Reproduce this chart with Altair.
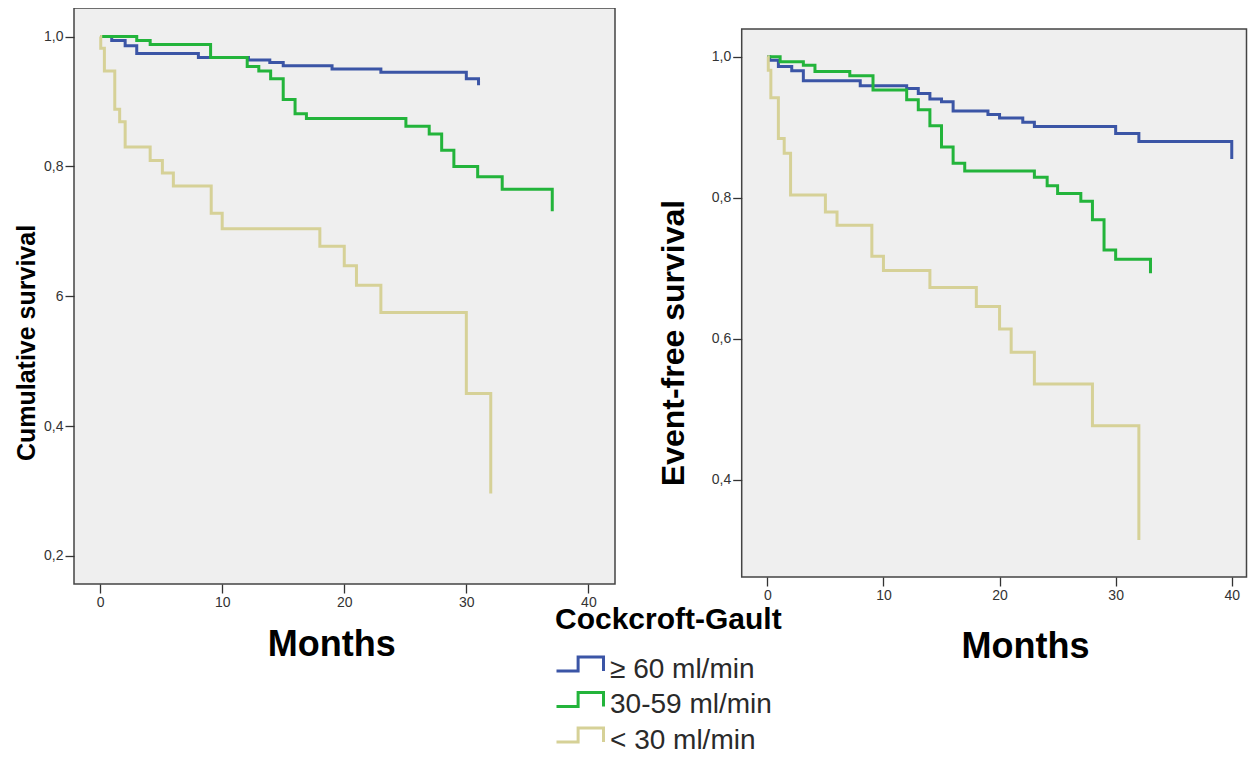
import altair as alt
import pandas as pd

FONT = "Liberation Sans"

groups = ["≥ 60 ml/min", "30-59 ml/min", "< 30 ml/min"]
colors = ["#3b55a6", "#23b43b", "#d6d197"]

# ---- Left panel: Cumulative survival (months, survival) ----
os_hi_t = [0, 0.95, 2.05, 3.0, 8.05, 12.15, 13.9, 15.0, 19.0, 23.0, 30.0, 31.0]
os_hi_s = [1.0, 0.994, 0.986, 0.974, 0.968, 0.964, 0.960, 0.955, 0.950, 0.945, 0.935, 0.925]

os_mid_t = [0, 3.0, 4.1, 9.05, 12.05, 13.0, 13.97, 15.0, 15.97, 16.9, 25.05, 26.96, 27.98, 28.98, 30.93, 32.94, 37.04]
os_mid_s = [1.0, 0.994, 0.988, 0.968, 0.954, 0.947, 0.935, 0.903, 0.881, 0.874, 0.862, 0.850, 0.825, 0.800, 0.784, 0.765, 0.731]

os_lo_t = [0, 0.05, 0.35, 1.2, 1.6, 2.05, 4.1, 5.1, 6.0, 9.1, 10.0, 18.0, 20.0, 21.0, 23.0, 30.0, 32.0]
os_lo_s = [1.0, 0.982, 0.947, 0.888, 0.869, 0.830, 0.809, 0.790, 0.770, 0.728, 0.704, 0.677, 0.647, 0.617, 0.575, 0.450, 0.296]

# ---- Right panel: Event-free survival ----
ef_hi_t = [0, 0.2, 0.95, 2.1, 3.1, 8.0, 12.0, 13.0, 14.0, 15.0, 16.0, 19.0, 20.0, 22.0, 23.0, 30.0, 32.0, 40.0]
ef_hi_s = [1.0, 0.995, 0.986, 0.980, 0.966, 0.959, 0.955, 0.948, 0.940, 0.936, 0.923, 0.918, 0.913, 0.907, 0.901, 0.891, 0.880, 0.855]

ef_mid_t = [0, 1.1, 3.1, 4.1, 7.1, 9.1, 12.0, 13.0, 14.0, 15.0, 16.0, 17.0, 23.0, 24.1, 25.0, 27.0, 28.0, 29.0, 30.0, 33.0]
ef_mid_s = [1.0, 0.993, 0.988, 0.979, 0.973, 0.953, 0.939, 0.925, 0.902, 0.872, 0.849, 0.838, 0.829, 0.817, 0.806, 0.795, 0.769, 0.726, 0.713, 0.693]

ef_lo_t = [0, 0.08, 0.3, 0.95, 1.45, 2.0, 5.0, 6.0, 9.0, 10.0, 14.0, 18.0, 20.0, 21.0, 23.0, 28.0, 32.0]
ef_lo_s = [1.0, 0.981, 0.942, 0.884, 0.863, 0.804, 0.780, 0.761, 0.717, 0.697, 0.673, 0.646, 0.614, 0.581, 0.536, 0.477, 0.315]

# axis extents (data units) of each framed panel
left_x_domain = [-2.14, 42.18]
left_y_domain = [0.1566, 1.0441]
right_x_domain = [-2.21, 41.27]
right_y_domain = [0.2625, 1.0393]

x_ticks = [0, 10, 20, 30, 40]
left_y_ticks = [0.2, 0.4, 0.6, 0.8, 1.0]
right_y_ticks = [0.4, 0.6, 0.8, 1.0]


def curves(series):
    rows = []
    for g, (ts, ss) in zip(groups, series):
        for i, (t, s) in enumerate(zip(ts, ss)):
            rows.append({"month": t, "surv": s, "group": g, "idx": i})
    return pd.DataFrame(rows)


left_df = curves([(os_hi_t, os_hi_s), (os_mid_t, os_mid_s), (os_lo_t, os_lo_s)])
right_df = curves([(ef_hi_t, ef_hi_s), (ef_mid_t, ef_mid_s), (ef_lo_t, ef_lo_s)])

left_frame = pd.DataFrame([{"x0": left_x_domain[0], "x1": left_x_domain[1],
                            "y0": left_y_domain[0], "y1": left_y_domain[1]}])
right_frame = pd.DataFrame([{"x0": right_x_domain[0], "x1": right_x_domain[1],
                             "y0": right_y_domain[0], "y1": right_y_domain[1]}])

legend = alt.Legend(
    orient="none", legendX=481, legendY=597, padding=0,
    title="Cockcroft-Gault", titleFont=FONT, titleFontSize=30, titleFontWeight="bold",
    titleColor="black", titlePadding=19, titleLimit=1000,
    labelFont=FONT, labelFontSize=28, labelColor="#2a2a2a", labelLimit=1000,
    labelOffset=14.5, rowPadding=1.5, symbolOffset=9.5,
    symbolType="M-1.679,0.1H-0.135V-0.9H1.679V0.1",
    symbolSize=784, symbolStrokeWidth=3, symbolFillColor="transparent",
)
color = alt.Color("group:N", scale=alt.Scale(domain=groups, range=colors), legend=legend)

lab_expr = "abs(datum.value - 0.6) < 0.001 && {flag} ? '6' : replace(format(datum.value, '.1f'), '.', ',')"


def x_axis(offset, tx, ty):
    return alt.Axis(values=x_ticks, orient="bottom", offset=offset, domain=False, grid=False,
                    tickSize=9, tickColor="#333333", tickWidth=1.3, labelPadding=2,
                    labelFont=FONT, labelFontSize=14, labelColor="#333333",
                    title="Months", titleFont=FONT, titleFontSize=36, titleFontWeight="bold",
                    titleColor="black", titleX=tx, titleY=ty, titleAlign="center",
                    titleBaseline="alphabetic", zindex=1)


def y_axis(vals, offset, title, tsize, tx, ty, flag):
    return alt.Axis(values=vals, orient="left", offset=offset, domain=False, grid=False,
                    tickSize=9, tickColor="#333333", tickWidth=1.3, labelPadding=2,
                    labelFont=FONT, labelFontSize=14, labelColor="#333333",
                    labelExpr=lab_expr.format(flag=flag),
                    title=title, titleFont=FONT, titleFontSize=tsize, titleFontWeight="bold",
                    titleColor="black", titleAngle=270, titleX=tx, titleY=ty,
                    titleAlign="center", titleBaseline="middle", zindex=1)


def panel(df, frame, xd, yd, xr, yr, xax, yax):
    sx = alt.Scale(domain=xd, range=xr, nice=False, zero=False)
    sy = alt.Scale(domain=yd, range=yr, nice=False, zero=False)
    box = alt.Chart(frame).mark_rect(fill="#efefef", stroke="#444444", strokeWidth=1.5).encode(
        x=alt.X("x0:Q", scale=sx, axis=xax), x2="x1:Q",
        y=alt.Y("y0:Q", scale=sy, axis=yax), y2="y1:Q",
    )
    lines = alt.Chart(df).mark_line(interpolate="step-after", strokeWidth=3).encode(
        x=alt.X("month:Q", scale=sx, axis=xax),
        y=alt.Y("surv:Q", scale=sy, axis=yax),
        color=color,
        order=alt.Order("idx:Q"),
    )
    return alt.layer(box, lines)


left = panel(left_df, left_frame, left_x_domain, left_y_domain, [0, 541], [576, 0],
             x_axis(-166, 257.3, 71),
             y_axis(left_y_ticks, 0, "Cumulative survival", 25, -48, 334.5, "true"))
right = panel(right_df, right_frame, right_x_domain, right_y_domain, [667.7, 1172.5], [569, 21],
              x_axis(-173, 951, 80.3),
              y_axis(right_y_ticks, -667.7, "Event-free survival", 32, -68.5, 334.5, "false"))

chart = alt.layer(left, right).resolve_scale(x="independent", y="independent").resolve_axis(
    x="independent", y="independent"
).properties(
    width=1174, height=742,
    autosize=alt.AutoSizeParams(type="none"),
    padding={"left": 66, "top": 0, "right": 0, "bottom": 0},
    background="white",
).configure_view(strokeWidth=0)

chart.save("out.html", embed_options={"renderer": "svg", "actions": False})
